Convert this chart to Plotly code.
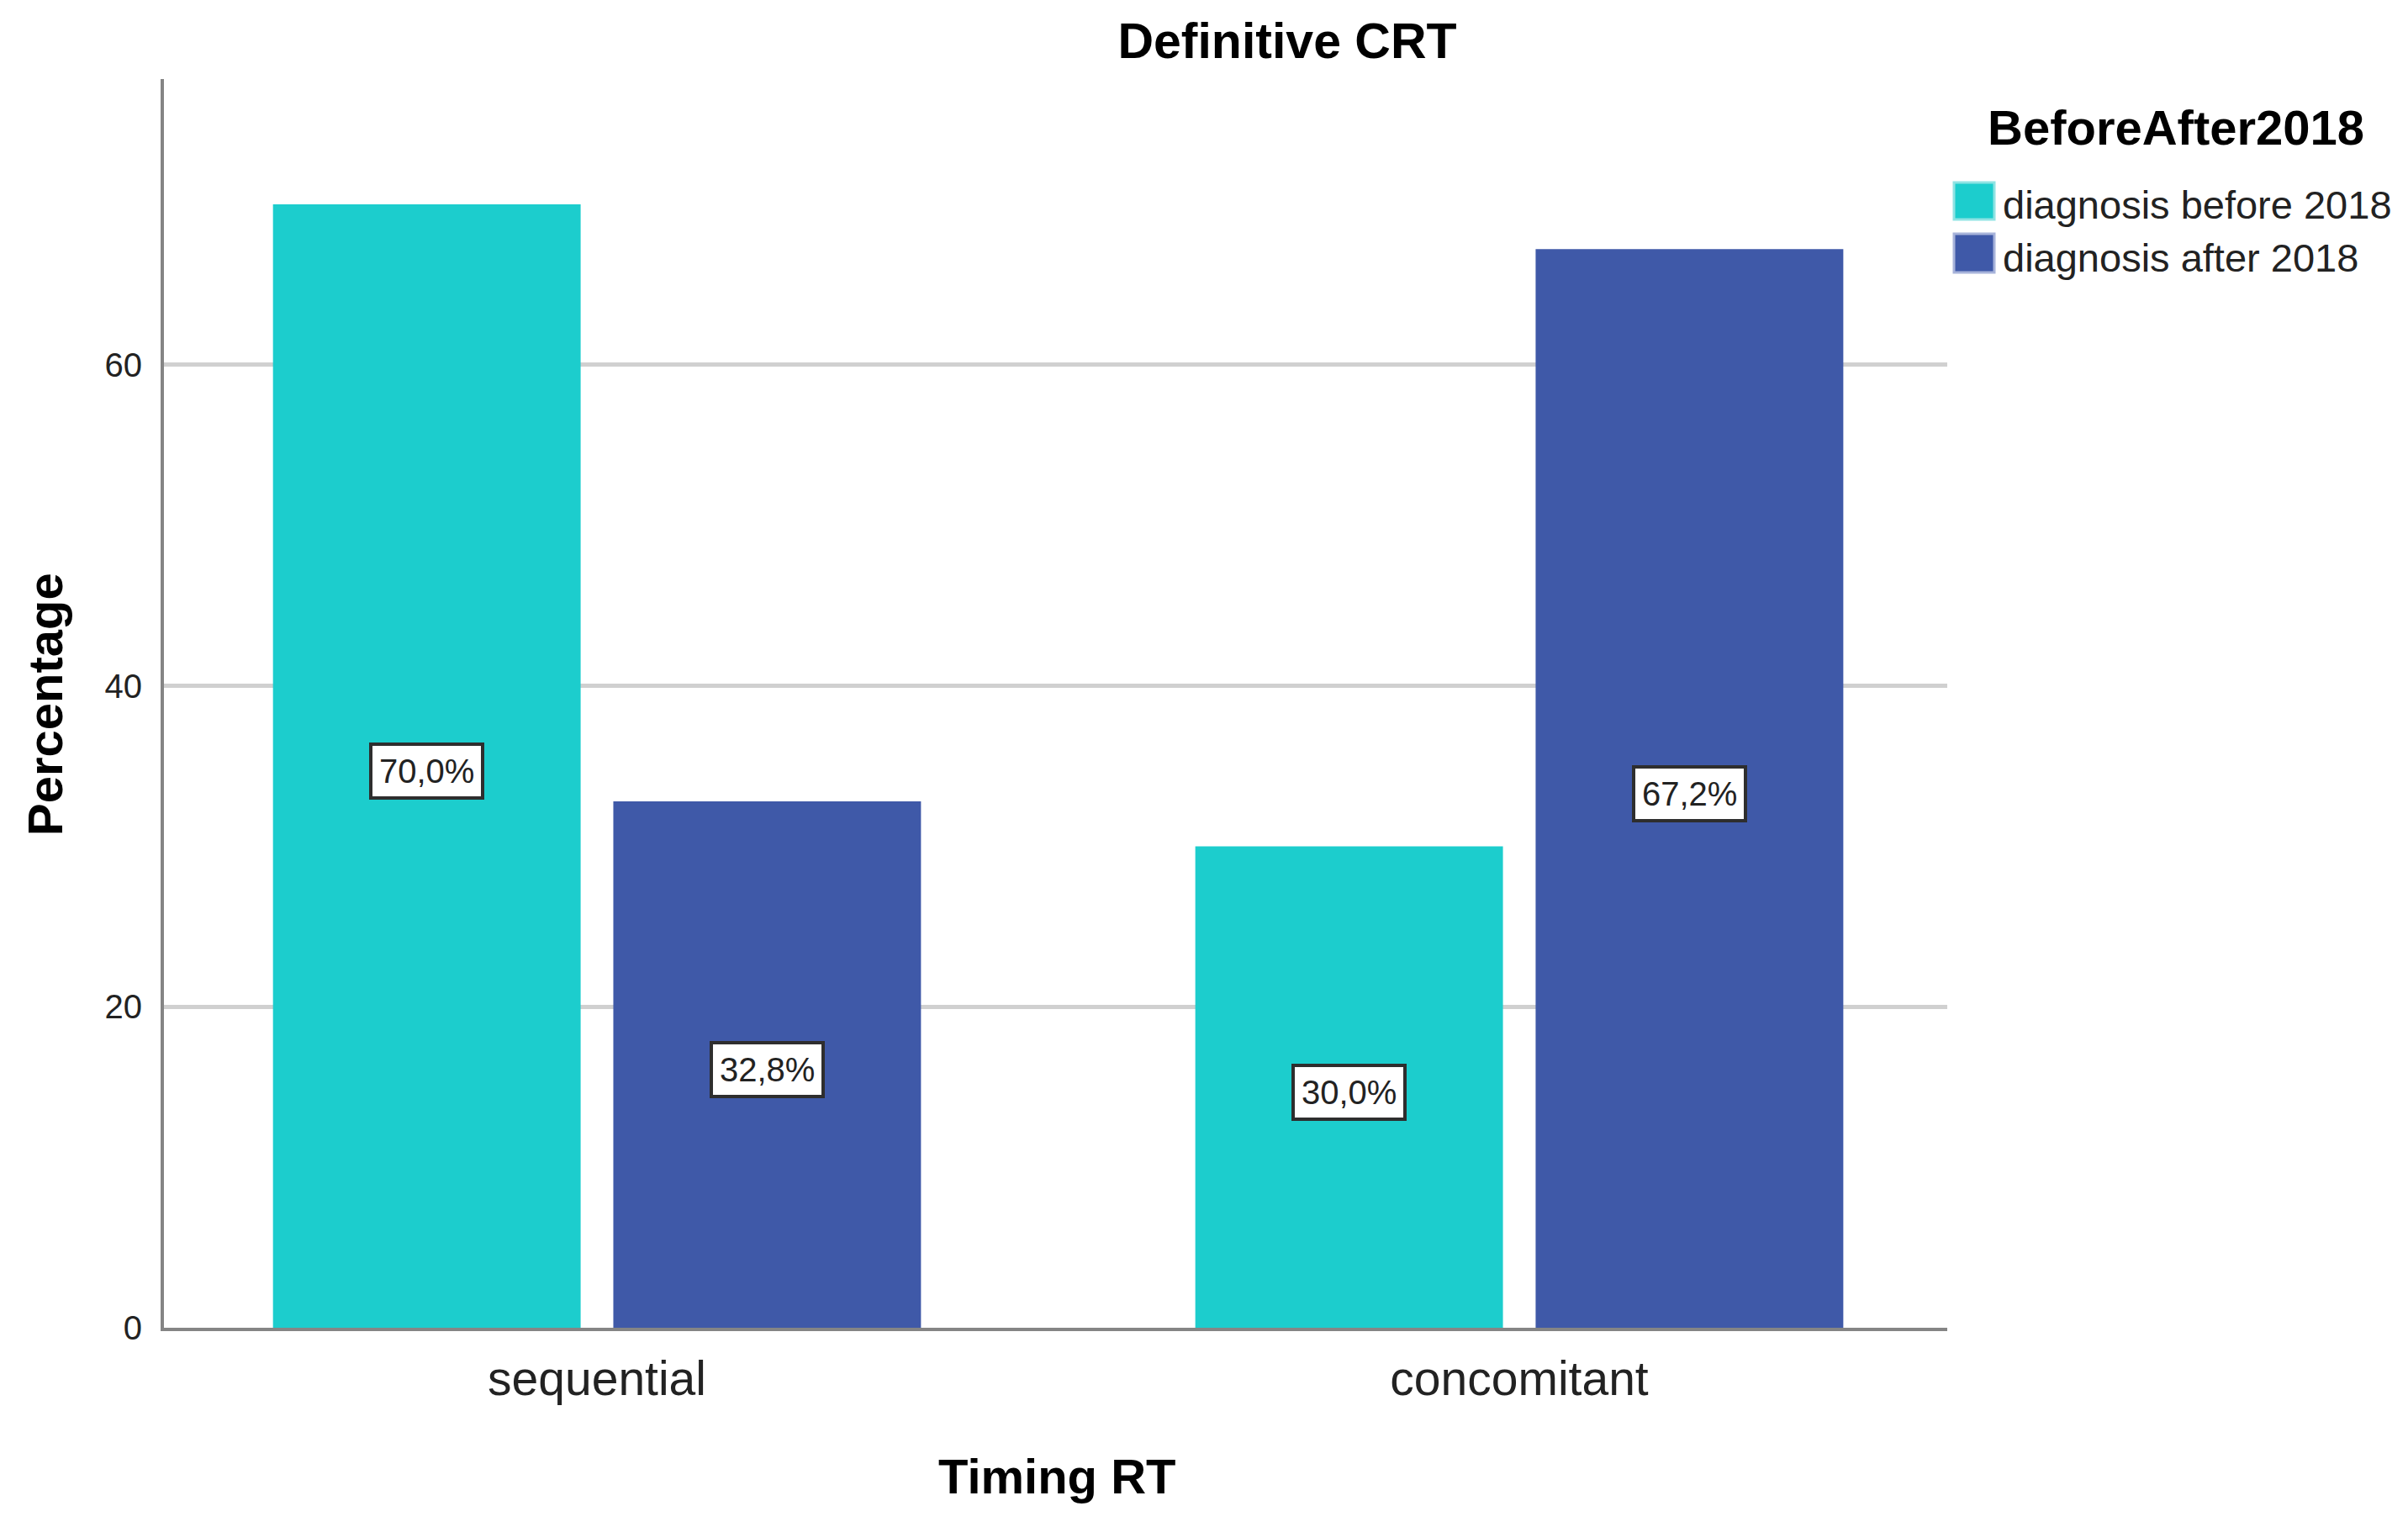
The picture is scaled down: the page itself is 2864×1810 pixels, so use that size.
import plotly.graph_objects as go

# ---------------- data ----------------
categories = ["sequential", "concomitant"]
series_names = ["diagnosis before 2018", "diagnosis after 2018"]
before_2018 = [70.0, 30.0]
after_2018 = [32.8, 67.2]
y_ticks = [0, 20, 40, 60]

chart_title = "Definitive CRT"
x_title = "Timing RT"
y_title = "Percentage"
legend_title = "BeforeAfter2018"

# ---------------- style ----------------
CYAN = "#1CCDCD"
BLUE = "#3F59A8"
CYAN_EDGE = "#8FE3E3"
BLUE_EDGE = "#A7B3DA"
FONT = "Liberation Sans, Arial, sans-serif"

# page layout (browser body has an 8px margin)
PAGE_W, PAGE_H = 2864, 1810
OFF = 8
W, H = PAGE_W - 2 * OFF, PAGE_H - 2 * OFF
PLOT_L, PLOT_R, PLOT_T, PLOT_B = 195, 2316, 94, 1579  # page pixels
L = PLOT_L - OFF
T = PLOT_T - OFF
R = (OFF + W) - PLOT_R
B = (OFF + H) - PLOT_B
PW = PLOT_R - PLOT_L
PH = PLOT_B - PLOT_T


def px(x):
    return (x - PLOT_L) / PW


def py(y):
    return (PLOT_B - y) / PH


BARGAP = 0.262
BARGROUPGAP = 0.096
slot = (1 - BARGAP) / 2

fig = go.Figure()
series = [(series_names[0], before_2018, CYAN), (series_names[1], after_2018, BLUE)]
for j, (name, vals, col) in enumerate(series):
    fig.add_bar(
        x=categories, y=vals, name=name,
        marker=dict(color=col, line=dict(width=0)),
        showlegend=False,
    )
    for i, v in enumerate(vals):
        fig.add_annotation(
            x=i + (j - 0.5) * slot, y=v / 2, xref="x", yref="y",
            text=f"{v:.1f}".replace(".", ",") + "%",
            showarrow=False,
            font=dict(family=FONT, size=40, color="#222222"),
            bgcolor="white", bordercolor="#2E2E2E", borderwidth=4, borderpad=8,
            yshift=-6,
        )

# axis titles
fig.add_annotation(
    x=px(53), y=py(838), xref="paper", yref="paper",
    text=f"<b>{y_title}</b>", textangle=-90, showarrow=False,
    font=dict(family=FONT, size=58, color="black"),
    xanchor="center", yanchor="middle",
)
fig.add_annotation(
    x=px(1257), y=py(1755), xref="paper", yref="paper",
    text=f"<b>{x_title}</b>", showarrow=False,
    font=dict(family=FONT, size=58, color="black"),
    xanchor="center", yanchor="middle",
)

# custom legend
fig.add_annotation(
    x=px(2362), y=py(152), xref="paper", yref="paper",
    text=f"<b>{legend_title}</b>", showarrow=False,
    font=dict(family=FONT, size=58, color="black"),
    xanchor="left", yanchor="middle",
)
sw = [(217, 261), (278, 324)]
edges = [CYAN_EDGE, BLUE_EDGE]
for k, (name, _, col) in enumerate(series):
    y0, y1 = sw[k]
    fig.add_shape(
        type="rect", xref="paper", yref="paper",
        x0=px(2324), x1=px(2372), y0=py(y1), y1=py(y0),
        fillcolor=col, line=dict(color=edges[k], width=3),
    )
    fig.add_annotation(
        x=px(2380), y=py((y0 + y1) / 2 + 5), xref="paper", yref="paper",
        text=name, showarrow=False,
        font=dict(family=FONT, size=47, color="#222222"),
        xanchor="left", yanchor="middle",
    )

fig.update_layout(
    width=W, height=H,
    margin=dict(l=L, r=R, t=T, b=B, autoexpand=False),
    paper_bgcolor="white", plot_bgcolor="white",
    barmode="group", bargap=BARGAP, bargroupgap=BARGROUPGAP,
    title=dict(
        text=f"<b>{chart_title}</b>", x=(1531 - OFF) / W, xanchor="center",
        y=1 - (48 - OFF) / H, yanchor="middle",
        font=dict(family=FONT, size=59, color="black"),
    ),
    font=dict(family=FONT),
    showlegend=False,
)
fig.update_xaxes(
    type="category", range=[-0.4695, 1.464],
    showline=True, linecolor="#858585", linewidth=4,
    showgrid=False, ticks="", zeroline=False,
    tickfont=dict(family=FONT, size=57, color="#222222"),
    ticklabelstandoff=8,
)
fig.update_yaxes(
    range=[0, 77.8], tickmode="array", tickvals=y_ticks,
    ticktext=[str(t) for t in y_ticks],
    showline=True, linecolor="#858585", linewidth=4,
    showgrid=True, gridcolor="#D0D0D0", gridwidth=5,
    zeroline=False, ticks="",
    tickfont=dict(family=FONT, size=40, color="#222222"),
    ticklabelstandoff=14,
)

fig.write_html("out.html")
